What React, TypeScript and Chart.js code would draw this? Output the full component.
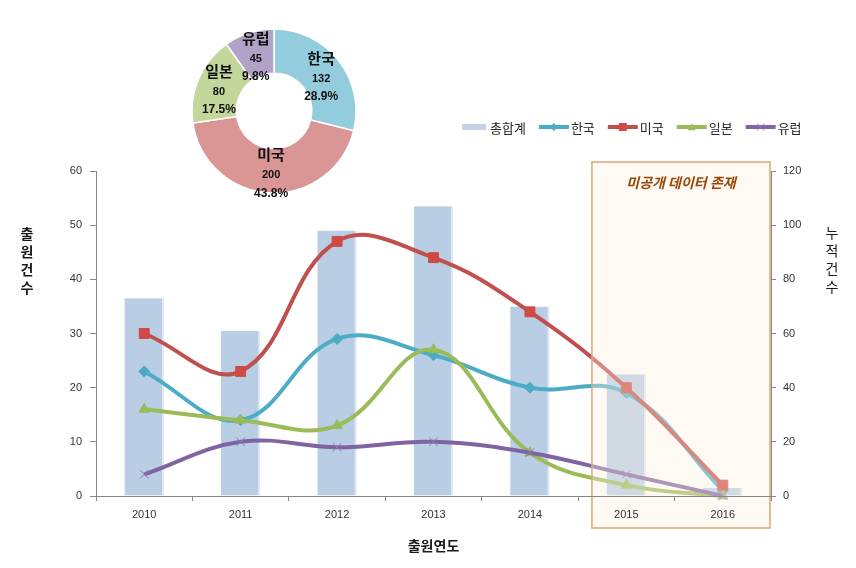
import React, { useEffect, useRef } from "react";
import { Chart, registerables } from "chart.js";

Chart.register(...registerables);

// ---- data ----
const years = ["2010", "2011", "2012", "2013", "2014", "2015", "2016"];
const korea = [23, 14, 29, 26, 20, 19, 1];
const usa = [30, 23, 47, 44, 34, 20, 2];
const japan = [16, 14, 13, 27, 8, 2, 0];
const europe = [4, 10, 9, 10, 8, 4, 0];
const totals = [73, 61, 98, 107, 70, 45, 3];
const seriesNames = ["총합계", "한국", "미국", "일본", "유럽"];
const donutLabels = ["한국", "미국", "일본", "유럽"];
const donutValues = [132, 200, 80, 45];
const leftAxisTitle = ["출", "원", "건", "수"];
const rightAxisTitle = ["누", "적", "건", "수"];
const xAxisTitle = "출원연도";
const hiddenNote = "미공개 데이터 존재";
const hiddenFromYear = "2015";

const KR = '"Noto Sans CJK KR", "Noto Sans", sans-serif';
const NUM = '"Liberation Sans", "DejaVu Sans", sans-serif';

const C_TOTAL = "#b9cde5";
const C_KR = "#4bacc6";
const C_US = "#c0504d";
const C_JP = "#9bbb59";
const C_EU = "#8064a2";

function drawMarker(ctx: CanvasRenderingContext2D, style: string, x: number, y: number, r: number, fill: string) {
  ctx.save();
  ctx.fillStyle = fill;
  ctx.strokeStyle = fill;
  ctx.lineWidth = 1;
  ctx.beginPath();
  if (style === "rectRot") {
    ctx.moveTo(x, y - r);
    ctx.lineTo(x + r, y);
    ctx.lineTo(x, y + r);
    ctx.lineTo(x - r, y);
    ctx.closePath();
    ctx.fill();
  } else if (style === "rect") {
    ctx.rect(x - r, y - r, 2 * r, 2 * r);
    ctx.fill();
  } else if (style === "triangle") {
    ctx.moveTo(x, y - r);
    ctx.lineTo(x + r, y + r * 0.8);
    ctx.lineTo(x - r, y + r * 0.8);
    ctx.closePath();
    ctx.fill();
  } else {
    ctx.moveTo(x - r, y - r);
    ctx.lineTo(x + r, y + r);
    ctx.moveTo(x + r, y - r);
    ctx.lineTo(x - r, y + r);
    ctx.stroke();
  }
  ctx.restore();
}

const overlayPlugin = {
  id: "overlay",
  afterDatasetsDraw(chart: any) {
    const { ctx, chartArea, scales } = chart;
    const xs = scales.x;
    const idx = years.indexOf(hiddenFromYear);
    const cat = (chartArea.right - chartArea.left) / years.length;
    const left = xs.getPixelForValue(idx) - cat * 0.357;
    const right = chartArea.right - 1;
    const top = chartArea.top - 9;
    const bottom = chartArea.bottom + 32;
    ctx.save();
    ctx.fillStyle = "rgba(253, 238, 222, 0.36)";
    ctx.fillRect(left, top, right - left, bottom - top);
    ctx.strokeStyle = "#d9a877";
    ctx.lineWidth = 1.5;
    ctx.strokeRect(left, top, right - left, bottom - top);
    ctx.fillStyle = "#974806";
    ctx.font = `italic bold 14px ${KR}`;
    ctx.textAlign = "center";
    ctx.textBaseline = "middle";
    ctx.fillText(hiddenNote, (left + right) / 2, top + 21);
    ctx.restore();
  },
  afterDraw(chart: any) {
    const { ctx, chartArea } = chart;
    ctx.save();
    ctx.fillStyle = "#1a1a1a";
    ctx.textAlign = "center";
    ctx.textBaseline = "middle";
    // left axis title
    ctx.font = `bold 14px ${KR}`;
    leftAxisTitle.forEach((ch, i) => ctx.fillText(ch, 27, 234 + i * 18));
    // right axis title
    ctx.font = `14px ${KR}`;
    rightAxisTitle.forEach((ch, i) => ctx.fillText(ch, 832, 233 + i * 18));
    // x axis title
    ctx.font = `bold 14px ${KR}`;
    ctx.fillText(xAxisTitle, (chartArea.left + chartArea.right) / 2, 546);

    // legend
    const ds = chart.data.datasets;
    let x = 462;
    const y = 127;
    ctx.font = `13px ${KR}`;
    ctx.textAlign = "left";
    ds.forEach((d: any, i: number) => {
      if (i === 0) {
        ctx.fillStyle = "#c3d4e9";
        ctx.fillRect(x, y - 3, 24, 6);
        x += 28;
      } else {
        ctx.strokeStyle = d.borderColor;
        ctx.lineWidth = 4;
        ctx.beginPath();
        ctx.moveTo(x, y);
        ctx.lineTo(x + 30, y);
        ctx.stroke();
        const mr = d.pointStyle === "rect" ? 4 : d.pointStyle === "crossRot" ? 3.5 : 4;
        drawMarker(ctx, d.pointStyle, x + 15, y, mr, d.pointBackgroundColor);
        x += 32;
      }
      ctx.fillStyle = "#262626";
      ctx.fillText(seriesNames[i], x, y + 1);
      x += ctx.measureText(seriesNames[i]).width + 13;
    });
    ctx.restore();
  },
};

const donutLabelPlugin = {
  id: "donutLabels",
  afterDatasetsDraw(chart: any) {
    const { ctx } = chart;
    const meta = chart.getDatasetMeta(0);
    const total = donutValues.reduce((a, b) => a + b, 0);
    ctx.save();
    ctx.fillStyle = "#111";
    ctx.textAlign = "center";
    ctx.textBaseline = "middle";
    meta.data.forEach((arc: any, i: number) => {
      const p = arc.getProps(["x", "y", "startAngle", "endAngle", "innerRadius", "outerRadius"], true);
      const a = (p.startAngle + p.endAngle) / 2;
      const r = (p.innerRadius + p.outerRadius) / 2;
      const px = p.x + Math.cos(a) * r;
      const py = p.y + Math.sin(a) * r;
      ctx.font = `bold 15px ${KR}`;
      ctx.fillText(donutLabels[i], px, py - 16);
      ctx.font = `bold 11px ${NUM}`;
      ctx.fillText(String(donutValues[i]), px, py + 4.5);
      ctx.font = `bold 12px ${NUM}`;
      ctx.fillText(((donutValues[i] / total) * 100).toFixed(1) + "%", px, py + 22.5);
    });
    ctx.restore();
  },
};

export default function App() {
  const mainRef = useRef<HTMLCanvasElement>(null);
  const donutRef = useRef<HTMLCanvasElement>(null);

  useEffect(() => {
    const axisGrid = { drawOnChartArea: false, color: "#868686", tickLength: 6 };
    const tickFont = { family: NUM, size: 11 };
    const lineCommon = { type: "line" as const, yAxisID: "y", borderWidth: 4, tension: 0.4, clip: false as any, pointBorderWidth: 1 };
    const main = new Chart(mainRef.current!, {
      type: "bar",
      data: {
        labels: years,
        datasets: [
          {
            type: "bar",
            label: seriesNames[0],
            data: totals,
            yAxisID: "y1",
            backgroundColor: C_TOTAL,
            borderColor: "#e2e9f3",
            borderWidth: { top: 0, left: 0, bottom: 0, right: 2 },
            barPercentage: 0.41,
            categoryPercentage: 1,
            order: 10,
          } as any,
          { ...lineCommon, label: seriesNames[1], data: korea, borderColor: C_KR, backgroundColor: C_KR, pointStyle: "rectRot", pointRadius: 5.5, pointBackgroundColor: C_KR, pointBorderColor: C_KR, order: 4 } as any,
          { ...lineCommon, label: seriesNames[2], data: usa, borderColor: C_US, backgroundColor: C_US, pointStyle: "rect", pointRadius: 7, pointBackgroundColor: "#cf4a45", pointBorderColor: "#cf4a45", order: 3 } as any,
          { ...lineCommon, label: seriesNames[3], data: japan, borderColor: C_JP, backgroundColor: C_JP, pointStyle: "triangle", pointRadius: 6, pointBackgroundColor: C_JP, pointBorderColor: C_JP, order: 2 } as any,
          { ...lineCommon, label: seriesNames[4], data: europe, borderColor: C_EU, backgroundColor: C_EU, pointStyle: "crossRot", pointRadius: 6, pointBackgroundColor: "#8c79b3", pointBorderColor: "#8c79b3", order: 1 } as any,
        ],
      },
      options: {
        animation: false,
        responsive: false,
        maintainAspectRatio: false,
        layout: { padding: { left: 56, right: 45, top: 171, bottom: 42 } },
        plugins: { legend: { display: false }, tooltip: { enabled: false } },
        scales: {
          x: {
            grid: { ...axisGrid, tickLength: 5, offset: true, z: 1 },
            border: { color: "#868686", z: 1 },
            ticks: { color: "#333", font: tickFont, padding: 7, z: 1 },
            afterFit: (s: any) => { s.height = 30; },
          },
          y: {
            position: "left",
            min: 0,
            max: 60,
            grid: axisGrid,
            border: { color: "#868686" },
            ticks: { stepSize: 10, color: "#333", font: tickFont, padding: 8 },
            afterFit: (s: any) => { s.width = 40; },
          },
          y1: {
            position: "right",
            min: 0,
            max: 120,
            grid: { ...axisGrid, tickLength: 5 },
            border: { color: "#868686" },
            ticks: { stepSize: 20, color: "#333", font: tickFont, padding: 7 },
            afterFit: (s: any) => { s.width = 40; },
          },
        } as any,
      },
      plugins: [overlayPlugin],
    });

    const donut = new Chart(donutRef.current!, {
      type: "doughnut",
      data: {
        labels: donutLabels,
        datasets: [
          {
            data: donutValues,
            backgroundColor: ["#93cddd", "#d99694", "#c3d69b", "#b3a2c7"],
            borderColor: "#ffffff",
            borderWidth: 1.5,
          },
        ],
      },
      options: {
        animation: false,
        responsive: false,
        maintainAspectRatio: false,
        radius: 82,
        cutout: 41,
        plugins: { legend: { display: false }, tooltip: { enabled: false } },
      } as any,
      plugins: [donutLabelPlugin],
    });

    return () => {
      main.destroy();
      donut.destroy();
    };
  }, []);

  return (
    <div style={{ position: "fixed", left: 0, top: 0, width: 856, height: 568, background: "#fff" }}>
      <canvas ref={mainRef} width={856} height={568} style={{ position: "absolute", left: 0, top: 0, display: "block" }} />
      <canvas ref={donutRef} width={180} height={180} style={{ position: "absolute", left: 184, top: 21, display: "block" }} />
    </div>
  );
}
